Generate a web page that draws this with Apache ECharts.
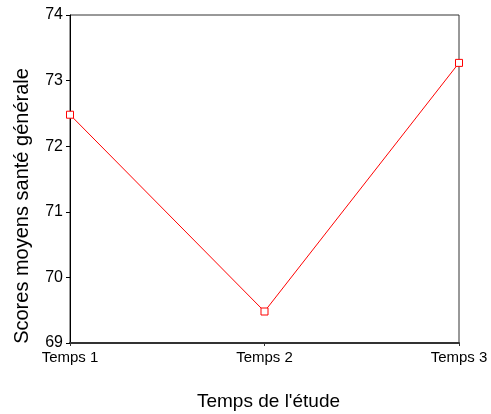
<!DOCTYPE html>
<html><head><meta charset="utf-8">
<script src="https://cdn.jsdelivr.net/npm/echarts@6/dist/echarts.min.js"></script>
<style>html,body{margin:0;padding:0;background:#fff}#c{width:491px;height:414px}</style>
</head><body><div id="c"></div>
<script>
const categories = ['Temps 1', 'Temps 2', 'Temps 3'];
const scores = [72.48, 69.48, 73.27];
const yMin = 69, yMax = 74, yStep = 1;

const chart = echarts.init(document.getElementById('c'));
chart.setOption({
  animation: false,
  textStyle: { fontFamily: 'Liberation Sans, Arial, sans-serif' },
  grid: { left: 70, right: 32, top: 15, bottom: 71, show: true, borderColor: '#333', borderWidth: 1, outerBoundsMode: 'none', containLabel: false },
  xAxis: {
    type: 'category', data: categories, boundaryGap: false,
    name: "Temps de l'étude", nameLocation: 'middle', nameGap: 49,
    nameTextStyle: { fontSize: 19, color: '#000', padding: [0, 0, 0, 8] },
    axisLine: { lineStyle: { color: '#333', width: 2 } },
    axisTick: { show: true, length: 3, lineStyle: { color: '#333' } },
    axisLabel: { fontSize: 15, color: '#000', margin: 7 },
    splitLine: { show: false }
  },
  yAxis: {
    type: 'value', min: yMin, max: yMax, interval: yStep,
    name: 'Scores moyens santé générale', nameLocation: 'middle', nameGap: 38,
    nameTextStyle: { fontSize: 20, color: '#000', padding: [0, 54, 0, 0] },
    axisLine: { show: true, lineStyle: { color: '#000', width: 1 } },
    axisTick: { show: true, length: 4, lineStyle: { color: '#000' } },
    axisLabel: { fontSize: 16, color: '#000', margin: 7 },
    splitLine: { show: false }
  },
  series: [{
    type: 'line', data: scores,
    symbol: 'rect', symbolSize: 7,
    itemStyle: { color: '#fff', borderColor: '#ff0000', borderWidth: 1 },
    lineStyle: { color: '#ff0000', width: 1 }
  }]
});
</script></body></html>
